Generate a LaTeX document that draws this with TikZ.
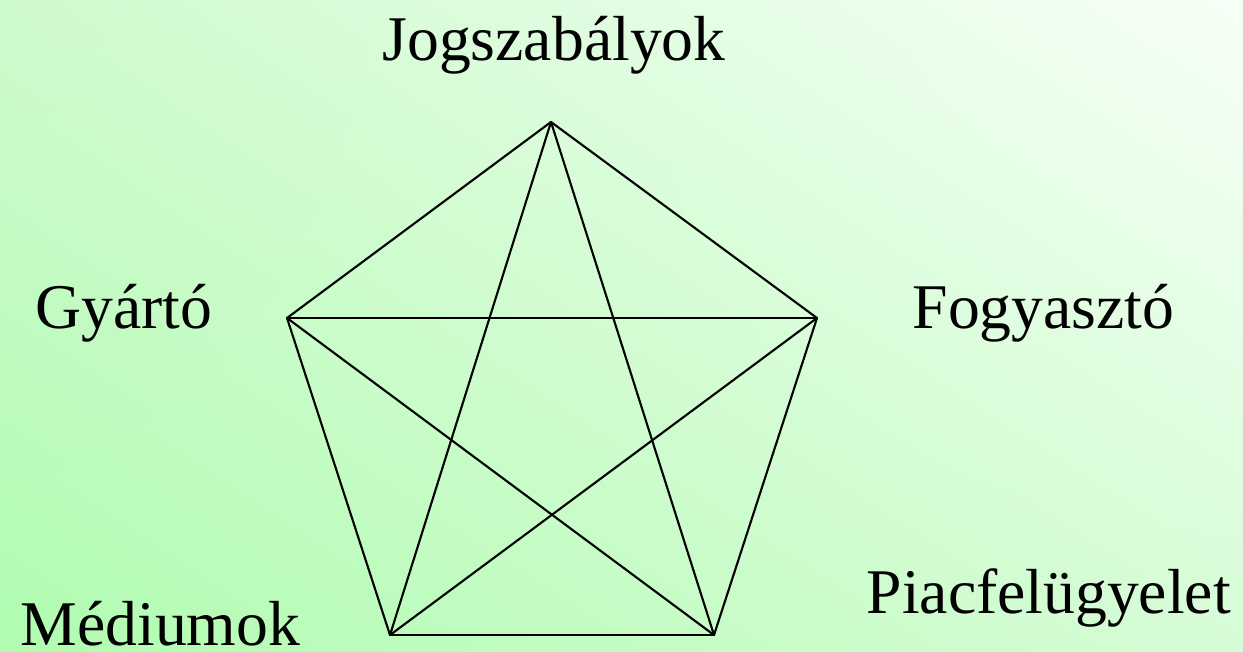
\documentclass[tikz,border=0pt]{standalone}
\usepackage{fontspec}
\setmainfont{Liberation Serif}
\usetikzlibrary{shadings}
\definecolor{bgll}{RGB}{176,252,176}
\definecolor{bgul}{RGB}{206,250,206}
\definecolor{bglr}{RGB}{214,252,214}
\definecolor{bgur}{RGB}{246,255,246}
\begin{document}
\begin{tikzpicture}[x=0.01cm,y=-0.01cm,line cap=round,line join=round,
  lbl/.style={inner sep=0pt,font=\fontsize{18.1}{22}\selectfont}]
  \shade[lower left=bgll,upper left=bgul,lower right=bglr,upper right=bgur]
    (0,651) rectangle (1243,0);
  \useasboundingbox (0,0) rectangle (1243,651);
  \coordinate (J) at (551,122); \coordinate (G) at (287,318);
  \coordinate (F) at (817,318); \coordinate (M) at (390,635);
  \coordinate (P) at (714,635);
  \foreach \a/\b in {J/G,J/F,J/M,J/P,G/F,G/M,G/P,F/M,F/P,M/P}
    \draw[line width=0.6pt] (\a)--(\b);
  \node[lbl,anchor=base] (jog) at (554,60) {Jogszabályok};
  \node[lbl,anchor=base west] (gyar) at (35,328) {Gyártó};
  \node[lbl,anchor=base west] (fogy) at (912,328) {Fogyasztó};
  \node[lbl,anchor=base west] (med) at (20,645) {Médiumok};
  \node[lbl,anchor=base west] (piac) at (866,613) {Piacfelügyelet};
\end{tikzpicture}
\end{document}
